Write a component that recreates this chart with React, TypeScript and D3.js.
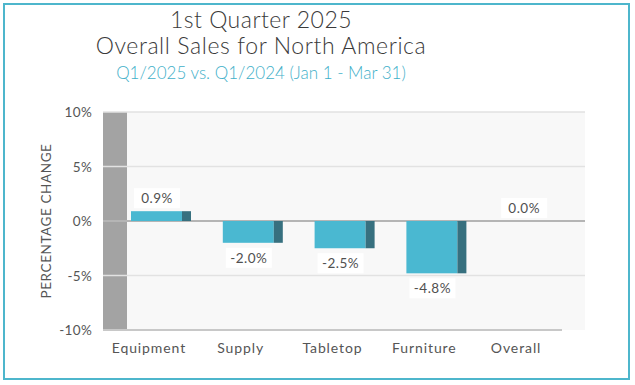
import React from "react";
import * as d3 from "d3";

const categories = ["Equipment", "Supply", "Tabletop", "Furniture", "Overall"];
const values = [0.9, -2.0, -2.5, -4.8, 0.0];
const yTicks = [10, 5, 0, -5, -10];
const titleLines = ["1st Quarter 2025", "Overall Sales for North America"];
const subtitle = "Q1/2025 vs. Q1/2024 (Jan 1 - Mar 31)";
const yAxisTitle = "PERCENTAGE CHANGE";

const W = 635;
const H = 385;
const FONT = "Lato, 'Open Sans', sans-serif";

export default function App() {
  const plotLeft = 103;
  const plotRight = 585;
  const bandRight = 562;
  const top = 112;
  const bottom = 330;
  const y = d3.scaleLinear().domain([-10, 10]).range([bottom, top]);
  const x = d3.scaleBand().domain(categories).range([plotLeft, bandRight]).padding(0);
  const barW = 60;
  const sideW = 9;
  const barOffset = 28;

  return (
    <svg
      width={W}
      height={H}
      style={{ position: "fixed", left: 0, top: 0, background: "#fff" }}
      fontFamily={FONT}
    >
      <rect x={4} y={4} width={625} height={375} fill="#fff" stroke="#4db6cc" strokeWidth={2} />
      <g textAnchor="middle" fontWeight={300}>
        <text x={261} y={28} fontSize={23} fill="#3a3a3a" letterSpacing={0.5}>{titleLines[0]}</text>
        <text x={261} y={54} fontSize={23} fill="#3a3a3a" letterSpacing={0.6}>{titleLines[1]}</text>
        <text x={261} y={79} fontSize={17} fill="#3fb0c9" letterSpacing={0}>{subtitle}</text>
      </g>
      {/* plot background */}
      <rect x={plotLeft} y={top} width={plotRight - plotLeft} height={bottom - top} fill="#f8f8f8" />
      <rect x={plotLeft} y={top} width={24} height={bottom - top} fill="#a3a3a3" />
      {/* gridlines */}
      {yTicks.map((t) => (
        <line
          key={t}
          x1={plotLeft}
          x2={t === -10 ? bandRight : plotRight}
          y1={y(t)}
          y2={y(t)}
          stroke={t === 0 ? "#b5b5b5" : t === -10 ? "#c8c8c8" : "#e2e2e2"}
          strokeWidth={t === 0 || t === -10 ? 2 : 1.5}
        />
      ))}
      {/* y tick labels */}
      {yTicks.map((t) => (
        <text key={"t" + t} x={92} y={y(t) + 5} textAnchor="end" fontSize={13.5} fill="#555" letterSpacing={0.3}>
          {t}%
        </text>
      ))}
      <text
        transform={`translate(51,${y(0)}) rotate(-90)`}
        textAnchor="middle"
        fontSize={13.5}
        fill="#555"
        letterSpacing={0.6}
      >
        {yAxisTitle}
      </text>
      {/* bars */}
      {categories.map((c, i) => {
        const v = values[i];
        const bx = (x(c) as number) + barOffset;
        const y0 = y(Math.max(0, v));
        const h = Math.abs(y(v) - y(0));
        if (h < 0.5) return null;
        return (
          <g key={c}>
            <rect x={bx} y={y0} width={barW - sideW} height={h} fill="#4ab8d1" />
            <rect x={bx + barW - sideW} y={y0} width={sideW} height={h} fill="#37707f" />
          </g>
        );
      })}
      {/* value labels */}
      {categories.map((c, i) => {
        const v = values[i];
        const cx = (x(c) as number) + barOffset + barW / 2 - 4;
        const cy = v >= 0 ? y(v) - 13 : y(v) + 15;
        return (
          <g key={"l" + c}>
            <rect x={cx - 23} y={cy - 10} width={46} height={20} fill="#fff" />
            <text x={cx} y={cy + 5} textAnchor="middle" fontSize={13.5} fill="#505050" letterSpacing={0.5}>
              {v.toFixed(1)}%
            </text>
          </g>
        );
      })}
      {/* category labels */}
      {categories.map((c) => (
        <text
          key={"c" + c}
          x={(x(c) as number) + x.bandwidth() / 2}
          y={353}
          textAnchor="middle"
          fontSize={14}
          fill="#555"
          letterSpacing={0.9}
        >
          {c}
        </text>
      ))}
    </svg>
  );
}
